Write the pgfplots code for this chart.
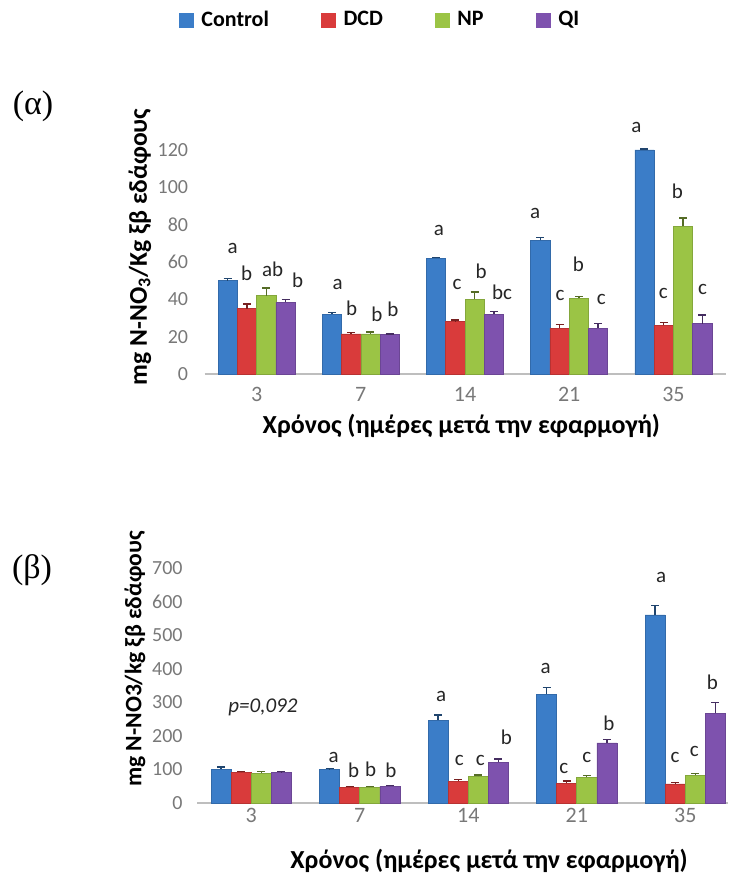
\documentclass[border=0pt]{standalone}
\usepackage{fontspec}
\setmainfont{Carlito}
\newfontfamily\serifgr{Liberation Serif}
\usepackage{pgfplots}
\pgfplotsset{compat=1.18}
\usepackage{pgfplotstable}

\definecolor{cblue}{RGB}{59,125,200}
\definecolor{cred}{RGB}{217,59,59}
\definecolor{cgreen}{RGB}{155,196,69}
\definecolor{cpurple}{RGB}{126,82,174}
\definecolor{axgray}{RGB}{190,190,190}
\definecolor{tickgray}{RGB}{120,120,120}

\pgfplotstableread{
x C Ce D De N Ne Q Qe
0 50 1 35 2.5 42 4 38.5 1.5
1 32 1 21.5 0.8 21.5 1 21 0.5
2 62 0.5 28 1 40 4 32 1.5
3 71.5 1.5 24.5 2 40.5 1 24.5 2.5
4 120 0.5 26 1.5 79 4.5 27 4.5
}\topdata

\pgfplotstableread{
x C Ce D De N Ne Q Qe
0 101 6 91 3 89 4 90 3
1 99 4 47 3 47 3 50 3
2 247 15 65 5 79 4 122 9
3 324 20 59 6 76 6 179 10
4 560 28 57 4 82 6 268 32
}\botdata

\tikzset{lt/.style={font=\fontsize{10.5}{12}\selectfont, text=black!85, inner sep=0pt}}

\pgfplotsset{
  mybar/.style={ybar, bar width=0.185, bar shift=0pt, fill=#1, draw=#1!85!black, line width=0.3pt,
    legend image code/.code={\fill[#1] (0pt,-3.5pt) rectangle (7pt,3.5pt);},
    error bars/.cd, y dir=plus, y explicit,
    error bar style={line width=0.7pt, #1!55!black},
    error mark options={line width=0.7pt, #1!55!black, mark size=2pt, rotate=90}},
  base/.style={
    scale only axis, clip=false,
    axis x line*=bottom, axis y line*=left,
    y axis line style={draw=none},
    x axis line style={axgray, line width=0.7pt},
    major tick length=0pt,
    xtick={0,1,2,3,4}, xticklabels={3,7,14,21,35},
    /pgf/number format/assume math mode=true,
    yticklabel style={font=\fontsize{10}{11}\selectfont, text=tickgray, inner sep=0pt},
    xticklabel style={font=\fontsize{11}{12}\selectfont, text=tickgray, inner sep=0pt, anchor=north},
    xlabel style={font=\bfseries\fontsize{13}{15}\selectfont, anchor=center},
  },
}

\begin{document}
\begin{tikzpicture}
\path[use as bounding box] (0pt,0pt) rectangle (364pt,440.5pt);

\node[font=\serifgr\fontsize{17}{19}\selectfont] at (16.5pt,387.5pt) {(α)};
\node[font=\serifgr\fontsize{17}{19}\selectfont] at (16pt,155.5pt) {(β)};

% ---------- top chart ----------
\begin{axis}[base,
  at={(102.25pt,253.5pt)}, anchor=south west,
  width=260.5pt, height=130.7pt,
  xmin=-0.5, xmax=4.5, ymin=0, ymax=140,
  ytick={0,20,40,60,80,100,120},
  yticklabel style={xshift=-8pt},
  xticklabel style={yshift=-6.5pt},
  xlabel={Χρόνος (ημέρες μετά την εφαρμογή)},
  xlabel style={at={(axis description cs:0.493,-0.199)}},
  ylabel={mg N-NO\textsubscript{3}/Kg ξβ εδάφους},
  ylabel style={at={(axis description cs:-0.124,0.486)}, anchor=center, font=\bfseries\fontsize{12.8}{15}\selectfont},
  legend columns=4,
  legend style={at={(axis description cs:0.335,1.354)}, anchor=center, draw=none, fill=none,
    font=\bfseries\fontsize{11}{12}\selectfont,
    /tikz/every even column/.append style={column sep=26pt},
    nodes={inner sep=0pt},
    /tikz/every odd column/.append style={column sep=4pt}},
]
\addplot[mybar=cblue] table[x expr=\thisrow{x}-0.2775,y=C,y error=Ce]{\topdata};
\addplot[mybar=cred] table[x expr=\thisrow{x}-0.0925,y=D,y error=De]{\topdata};
\addplot[mybar=cgreen] table[x expr=\thisrow{x}+0.0925,y=N,y error=Ne]{\topdata};
\addplot[mybar=cpurple] table[x expr=\thisrow{x}+0.2775,y=Q,y error=Qe]{\topdata};
\legend{Control,DCD,NP,QI}

\node[lt] at (axis cs:-0.231,67) {a};
\node[lt] at (axis cs:-0.096,54) {b};
\node[lt] at (axis cs:0.154,56) {ab};
\node[lt] at (axis cs:0.394,50) {b};
\node[lt] at (axis cs:0.779,48) {a};
\node[lt] at (axis cs:0.913,35) {b};
\node[lt] at (axis cs:1.154,32) {b};
\node[lt] at (axis cs:1.308,34.5) {b};
\node[lt] at (axis cs:1.75,77) {a};
\node[lt] at (axis cs:1.923,48) {c};
\node[lt] at (axis cs:2.154,55) {b};
\node[lt] at (axis cs:2.356,44) {bc};
\node[lt] at (axis cs:2.673,86) {a};
\node[lt] at (axis cs:2.913,42) {c};
\node[lt] at (axis cs:3.087,59) {b};
\node[lt] at (axis cs:3.308,40) {c};
\node[lt] at (axis cs:3.644,132) {a};
\node[lt] at (axis cs:3.904,43) {c};
\node[lt] at (axis cs:4.038,98) {b};
\node[lt] at (axis cs:4.279,45) {c};
\end{axis}

% ---------- bottom chart ----------
\begin{axis}[base,
  at={(98.5pt,39pt)}, anchor=south west,
  width=265.5pt, height=125.9pt,
  xmin=-0.5, xmax=4.394, ymin=0, ymax=750,
  ytick={0,100,200,300,400,500,600,700},
  yticklabel style={xshift=-7pt},
  xticklabel style={yshift=-2.5pt},
  xlabel={Χρόνος (ημέρες μετά την εφαρμογή)},
  xlabel style={at={(axis description cs:0.55,-0.23)}},
  ylabel={mg N-NO3/kg ξβ εδάφους},
  ylabel style={at={(axis description cs:-0.117,0.572)}, anchor=center, font=\bfseries\fontsize{11.8}{14}\selectfont},
]
\addplot[mybar=cblue] table[x expr=\thisrow{x}-0.2775,y=C,y error=Ce]{\botdata};
\addplot[mybar=cred] table[x expr=\thisrow{x}-0.0925,y=D,y error=De]{\botdata};
\addplot[mybar=cgreen] table[x expr=\thisrow{x}+0.0925,y=N,y error=Ne]{\botdata};
\addplot[mybar=cpurple] table[x expr=\thisrow{x}+0.2775,y=Q,y error=Qe]{\botdata};

\node[font=\itshape\fontsize{10.5}{12}\selectfont, text=black!85] at (axis cs:0.108,286) {p=0,092};
\node[lt] at (axis cs:0.759,137) {a};
\node[lt] at (axis cs:0.944,98) {b};
\node[lt] at (axis cs:1.10,100) {b};
\node[lt] at (axis cs:1.287,98) {b};
\node[lt] at (axis cs:1.75,316) {a};
\node[lt] at (axis cs:1.917,128) {c};
\node[lt] at (axis cs:2.111,128) {c};
\node[lt] at (axis cs:2.352,197) {b};
\node[lt] at (axis cs:2.713,402) {a};
\node[lt] at (axis cs:2.88,104) {c};
\node[lt] at (axis cs:3.093,137) {c};
\node[lt] at (axis cs:3.296,238) {b};
\node[lt] at (axis cs:3.778,672) {a};
\node[lt] at (axis cs:3.907,137) {c};
\node[lt] at (axis cs:4.083,152) {c};
\node[lt] at (axis cs:4.25,360) {b};
\end{axis}
\end{tikzpicture}
\end{document}
